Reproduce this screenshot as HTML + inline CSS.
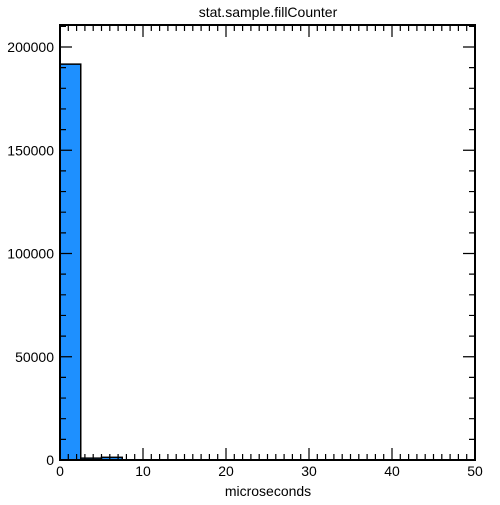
<!DOCTYPE html>
<html><head><meta charset="utf-8"><style>
body{margin:0;background:#fff;}
svg text{font-family:"Liberation Sans",sans-serif;fill:#000;}
</style></head><body>
<svg id="chart" width="500" height="500" xmlns="http://www.w3.org/2000/svg">
<rect width="500" height="500" fill="#fff"/>
<text x="268" y="17" font-size="14" text-anchor="middle">stat.sample.fillCounter</text>
<text x="268" y="496" font-size="14" text-anchor="middle">microseconds</text>
<g id="bars"></g>
<g id="axes"></g>
</svg>
<script>
const binEdges = [0, 2.5, 5, 7.5];
const binCounts = [191700, 900, 1300];
const xTicks = [0, 10, 20, 30, 40, 50];
const yTicks = [0, 50000, 100000, 150000, 200000];
const L=60,R=475,T=25,B=460;
const xs=v=>L+(v/50)*(R-L);
const ys=v=>B-v*(B-47)/200000;
const NS="http://www.w3.org/2000/svg";
const bars=document.getElementById('bars'),axes=document.getElementById('axes');
function mk(tag,attrs,parent){const e=document.createElementNS(NS,tag);for(const k in attrs)e.setAttribute(k,attrs[k]);parent.appendChild(e);return e;}
binCounts.forEach((c,i)=>{
  const r=mk('rect',{x:xs(binEdges[i]),y:ys(c),width:xs(binEdges[i+1])-xs(binEdges[i]),height:B-ys(c),fill:'#1e90ff',stroke:'#000','stroke-width':1.5},bars);
  
  
});
const frame=mk('rect',{x:L,y:T,width:R-L,height:B-T,fill:'none',stroke:'#000','stroke-width':2},axes);


let d='';
for(let v=0;v<=50;v++){const x=xs(v),len=v%10===0?12:6;d+=`M${x},${B}v${-len}M${x},${T}v${len}`;}
for(let v=0;v<=210000;v+=10000){const y=ys(v);if(y<T)break;const len=v%50000===0?12:6;d+=`M${L},${y}h${len}M${R},${y}h${-len}`;}
const tk=mk('path',{d:d,stroke:'#000','stroke-width':1.2,fill:'none'},axes);


xTicks.forEach(v=>{const t=mk('text',{x:xs(v),y:476,'font-size':14,'text-anchor':'middle'},axes);t.textContent=v;
  
  });
yTicks.forEach(v=>{const t=mk('text',{x:54,y:ys(v)+5,'font-size':14,'text-anchor':'end'},axes);t.textContent=v;
  
  });
</script>
</body></html>
